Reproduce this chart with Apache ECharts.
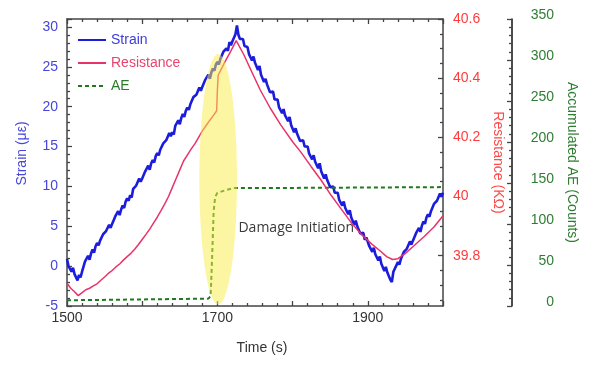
<!DOCTYPE html>
<html>
<head>
<meta charset="utf-8">
<script src="https://cdn.jsdelivr.net/npm/echarts@6/dist/echarts.min.js"></script>
<style>html,body{margin:0;padding:0;background:#fff;}#c{width:600px;height:383px;}</style>
</head>
<body>
<div id="c"></div>
<script>
// ---- data ----
const timeLabels = [1500, 1700, 1900];
const strainLabels = [-5, 0, 5, 10, 15, 20, 25, 30];
const resistanceLabels = [39.8, 40, 40.2, 40.4, 40.6];
const resistanceMinorTicks = [39.65,39.7,39.75,39.85,39.9,39.95,40.05,40.1,40.15,40.25,40.3,40.35,40.45,40.5,40.55];

const strainData = [
[1500,0.9],[1502,0.0],[1504,0.1],[1506,-0.7],[1508,-0.2],[1510,-1.0],[1512,-1.0],[1514,-1.8],[1516,-1.1],[1518,-1.4],
[1520,-0.7],[1522,-0.7],[1524,0.6],[1526,0.5],[1528,1.3],[1530,0.8],[1532,1.6],[1534,2.1],[1536,1.7],[1538,2.5],
[1540,2.9],[1542,2.6],[1544,3.2],[1546,3.0],[1548,4.0],[1550,3.8],[1552,4.4],[1554,4.2],[1556,5.2],[1558,4.8],
[1560,5.3],[1562,5.1],[1564,6.2],[1566,6.1],[1568,6.9],[1570,6.4],[1572,7.1],[1574,7.6],[1576,7.3],[1578,8.1],
[1580,8.5],[1582,8.2],[1584,8.9],[1586,8.6],[1588,9.7],[1590,9.5],[1592,10.1],[1594,9.9],[1596,11.0],[1598,10.6],
[1600,11.0],[1602,10.8],[1604,11.9],[1606,11.8],[1608,12.6],[1610,12.1],[1612,12.9],[1614,13.3],[1616,13.0],[1618,13.8],
[1620,14.2],[1622,13.9],[1624,14.6],[1626,14.4],[1628,15.4],[1630,15.2],[1632,15.8],[1634,15.6],[1636,16.7],[1638,16.3],
[1640,16.8],[1642,16.5],[1644,17.6],[1646,17.5],[1648,18.3],[1650,17.8],[1652,18.6],[1654,19.1],[1656,18.7],[1658,19.5],
[1660,19.9],[1662,19.6],[1664,20.3],[1666,20.1],[1668,21.2],[1670,21.0],[1672,21.5],[1674,21.3],[1676,22.4],[1678,22.0],
[1680,22.5],[1682,22.3],[1684,23.4],[1686,23.2],[1688,24.0],[1690,23.5],[1692,24.3],[1694,24.8],[1696,24.5],[1698,25.3],
[1700,25.6],[1702,25.3],[1704,26.0],[1706,25.8],[1708,26.9],[1710,26.7],[1712,27.3],[1714,27.0],[1716,28.1],[1718,27.7],
[1720,28.2],[1722,28.0],[1724,29.1],[1726,30.2],[1728,29.0],[1730,28.5],[1732,28.6],[1734,28.5],[1736,27.6],[1738,27.7],
[1740,27.5],[1742,26.6],[1744,26.6],[1746,25.8],[1748,26.3],[1750,25.5],[1752,25.4],[1754,24.6],[1756,25.1],[1758,24.0],
[1760,23.9],[1762,23.1],[1764,23.5],[1766,22.8],[1768,23.0],[1770,21.8],[1772,22.0],[1774,21.9],[1776,20.9],[1778,21.1],
[1780,20.9],[1782,19.9],[1784,20.0],[1786,19.2],[1788,19.7],[1790,18.9],[1792,18.9],[1794,18.2],[1796,18.7],[1798,17.7],
[1800,17.6],[1802,16.8],[1804,17.3],[1806,16.6],[1808,16.8],[1810,15.7],[1812,15.9],[1814,15.8],[1816,15.0],[1818,15.2],
[1820,15.0],[1822,14.1],[1824,14.2],[1826,13.4],[1828,13.9],[1830,13.1],[1832,13.1],[1834,12.3],[1836,12.9],[1838,11.9],
[1840,11.8],[1842,11.0],[1844,11.5],[1846,10.8],[1848,11.0],[1850,9.9],[1852,10.1],[1854,10.0],[1856,9.2],[1858,9.4],
[1860,9.2],[1862,8.3],[1864,8.4],[1866,7.6],[1868,8.1],[1870,7.3],[1872,7.3],[1874,6.5],[1876,7.0],[1878,6.1],
[1880,6.0],[1882,5.2],[1884,5.7],[1886,5.0],[1888,5.2],[1890,4.1],[1892,4.3],[1894,4.2],[1896,3.3],[1898,3.6],
[1900,3.4],[1902,2.5],[1904,2.6],[1906,1.8],[1908,2.3],[1910,1.5],[1912,1.5],[1914,0.7],[1916,1.2],[1918,0.3],
[1920,0.2],[1922,-0.6],[1924,-0.1],[1926,-0.8],[1928,-0.6],[1930,-1.7],[1932,-2.0],[1934,-0.7],[1936,-0.9],[1938,0.1],
[1940,0.5],[1942,0.2],[1944,0.9],[1946,0.7],[1948,1.8],[1950,1.6],[1952,2.2],[1954,2.0],[1956,3.1],[1958,2.7],
[1960,3.2],[1962,3.0],[1964,4.1],[1966,4.0],[1968,4.8],[1970,4.3],[1972,5.1],[1974,5.6],[1976,5.3],[1978,6.1],
[1980,6.5],[1982,6.2],[1984,6.9],[1986,6.7],[1988,7.8],[1990,7.6],[1992,8.2],[1994,8.0],[1996,9.1],[1998,8.7],
[2000,9.2]
];

const resistanceData = [
[1500,39.707],[1505,39.69],[1510,39.678],[1515,39.665],[1520,39.675],[1525,39.685],[1530,39.69],
[1535,39.698],[1540,39.705],[1545,39.717],[1550,39.728],[1555,39.74],[1560,39.75],[1565,39.762],
[1570,39.772],[1575,39.785],[1580,39.797],[1585,39.808],[1590,39.822],[1595,39.838],[1600,39.855],
[1605,39.872],[1610,39.89],[1615,39.91],[1620,39.93],[1625,39.952],[1630,39.975],[1635,40.0],
[1640,40.03],[1645,40.06],[1650,40.09],[1655,40.12],[1660,40.14],[1665,40.16],[1670,40.178],
[1675,40.2],[1680,40.222],[1685,40.24],[1690,40.258],[1695,40.275],[1699,40.29],[1700,40.36],
[1701,40.41],[1703,40.42],[1710,40.455],[1718,40.492],[1725,40.527],[1735,40.48],[1745,40.425],
[1757,40.36],[1770,40.3],[1784,40.243],[1800,40.185],[1811,40.15],[1825,40.1],[1838,40.055],
[1851,40.005],[1864,39.96],[1877,39.915],[1891,39.873],[1905,39.84],[1917,39.815],[1925,39.797],
[1933,39.787],[1940,39.79],[1950,39.808],[1961,39.833],[1975,39.865],[1988,39.897],[2000,39.935]
];

const aeData = [
[1500,7],[1600,8],[1688,9],[1691,12],[1693,60],[1695,115],[1697,133],[1700,138],
[1710,141],[1722,144],[1800,144],[2000,145]
];

// annotation (data coordinates: time, strain)
const ellipseCenter = [1701, 10.9];
const ellipseHalfSize = [25, 15.7];
const annotationText = 'Damage Initiation';
const annotationAt = [1728, 4.8];

// ---- chart ----
const chart = echarts.init(document.getElementById('c'));
const font = "'Liberation Sans', Arial, sans-serif";
const tickColor = '#444';
const strainColor = '#1c1cdc', resColor = '#e8336a', aeColor = '#1f7a1f';
const plain = v => String(v);
function frameLine() { return {show: true, onZero: false, lineStyle: {color: '#444', width: 1.5}}; }
function majorTick(extra) { return Object.assign({show: true, inside: true, length: 5, lineStyle: {color: tickColor, width: 1.3}}, extra || {}); }
function minorTick() { return {show: true, splitNumber: 5, length: 3, lineStyle: {color: tickColor, width: 1.3}}; }

const option = {
  animation: false,
  textStyle: {fontFamily: font},
  grid: {left: 67, right: 157, top: 19, bottom: 77, outerBoundsMode: 'none'},
  legend: {
    left: 77, top: 33, orient: 'vertical', padding: 0, itemGap: 9,
    itemWidth: 28, itemHeight: 14,
    itemStyle: {opacity: 0},
    textStyle: {fontFamily: font, fontSize: 14},
    data: [
      {name: 'Strain', textStyle: {color: '#3c3cdc'}},
      {name: 'Resistance', textStyle: {color: '#e8446e'}},
      {name: 'AE', textStyle: {color: '#2a7a2a'}}
    ]
  },
  xAxis: [{
    type: 'value', min: 1500, max: 2000, interval: 100, position: 'bottom',
    name: 'Time (s)', nameLocation: 'middle', nameGap: 35,
    nameTextStyle: {color: '#333', fontSize: 14, fontFamily: font, padding: [0, 0, 0, 14]},
    axisLine: frameLine(),
    axisTick: majorTick(),
    minorTick: minorTick(),
    axisLabel: {customValues: timeLabels, formatter: plain, color: '#333', fontSize: 14, margin: 5, fontFamily: font},
    splitLine: {show: false}
  }, {
    type: 'value', min: 1500, max: 2000, interval: 100, position: 'top',
    axisLine: frameLine(),
    axisTick: majorTick(),
    minorTick: minorTick(),
    axisLabel: {show: false}, splitLine: {show: false}
  }],
  yAxis: [{
    type: 'value', min: -5, max: 31, interval: 5, position: 'left',
    name: 'Strain (\u03bc\u03b5)', nameLocation: 'middle', nameGap: 38,
    nameTextStyle: {color: '#4646dc', fontSize: 14, fontFamily: font, padding: [0, 0, 0, 18]},
    axisLine: frameLine(),
    axisTick: majorTick(),
    minorTick: minorTick(),
    axisLabel: {customValues: strainLabels, formatter: plain, color: '#4646dc', fontSize: 14, margin: 9, fontFamily: font},
    splitLine: {show: false}
  }, {
    type: 'value', min: 39.63, max: 40.6, position: 'right', offset: 0,
    name: 'Resistance (K\u03a9)', nameLocation: 'middle', nameGap: 37, nameRotate: -90,
    nameTextStyle: {color: '#ff4a4a', fontSize: 14, fontFamily: font},
    axisLine: frameLine(),
    axisTick: majorTick({customValues: resistanceLabels}),
    axisLabel: {customValues: resistanceLabels, formatter: plain, color: '#ff3b3b', fontSize: 14, margin: 10, fontFamily: font},
    splitLine: {show: false}
  }, {
    type: 'value', min: 0, max: 350, interval: 50, position: 'right', offset: 69,
    name: 'Accumulated AE (Counts)', nameLocation: 'middle', nameGap: 42, nameRotate: -90,
    nameTextStyle: {color: '#2e7d32', fontSize: 14, fontFamily: font},
    axisLine: {show: true, onZero: false, lineStyle: {color: '#111', width: 1.5}},
    axisTick: majorTick(),
    minorTick: minorTick(),
    axisLabel: {formatter: plain, color: '#2e7d32', fontSize: 14, margin: 42, align: 'right',
                verticalAlign: 'bottom', lineHeight: 8, fontFamily: font},
    splitLine: {show: false}
  }, {
    type: 'value', min: 39.63, max: 40.6, position: 'right', offset: 0,
    axisLine: {show: false, onZero: false},
    axisTick: {show: true, inside: true, length: 3, customValues: resistanceMinorTicks, lineStyle: {color: tickColor, width: 1.3}},
    axisLabel: {show: false}, splitLine: {show: false}
  }],
  series: [{
    name: 'Strain', type: 'line', xAxisIndex: 0, yAxisIndex: 0, data: strainData,
    symbol: 'none', lineStyle: {color: strainColor, width: 2.6}, itemStyle: {color: strainColor}, z: 2
  }, {
    name: 'AE', type: 'line', xAxisIndex: 0, yAxisIndex: 2, data: aeData,
    symbol: 'none', lineStyle: {color: aeColor, width: 2, type: [4, 3]}, itemStyle: {color: aeColor}, z: 3
  }, {
    name: 'Resistance', type: 'line', xAxisIndex: 0, yAxisIndex: 1, data: resistanceData,
    symbol: 'none', lineStyle: {color: resColor, width: 1.5}, itemStyle: {color: resColor}, z: 4
  }, {
    name: 'zone', type: 'custom', xAxisIndex: 0, yAxisIndex: 0, silent: true, z: 6,
    data: [[ellipseCenter[0], ellipseCenter[1], ellipseHalfSize[0], ellipseHalfSize[1]]],
    renderItem: function (params, api) {
      const c = api.coord([api.value(0), api.value(1)]);
      const s = api.size([api.value(2), api.value(3)]);
      return {type: 'ellipse', shape: {cx: c[0], cy: c[1], rx: s[0], ry: s[1]},
              style: {fill: 'rgba(250,238,70,0.5)'}};
    }
  }, {
    name: 'note', type: 'custom', xAxisIndex: 0, yAxisIndex: 0, silent: true, z: 7,
    data: [[annotationAt[0], annotationAt[1]]],
    renderItem: function (params, api) {
      const c = api.coord([api.value(0), api.value(1)]);
      return {type: 'text', x: c[0], y: c[1],
              style: {text: annotationText, fill: '#3a3a3a', font: '14px "Open Sans", sans-serif',
                      textAlign: 'left', textVerticalAlign: 'middle'}};
    }
  }]
};
chart.setOption(option);
</script>
</body>
</html>
